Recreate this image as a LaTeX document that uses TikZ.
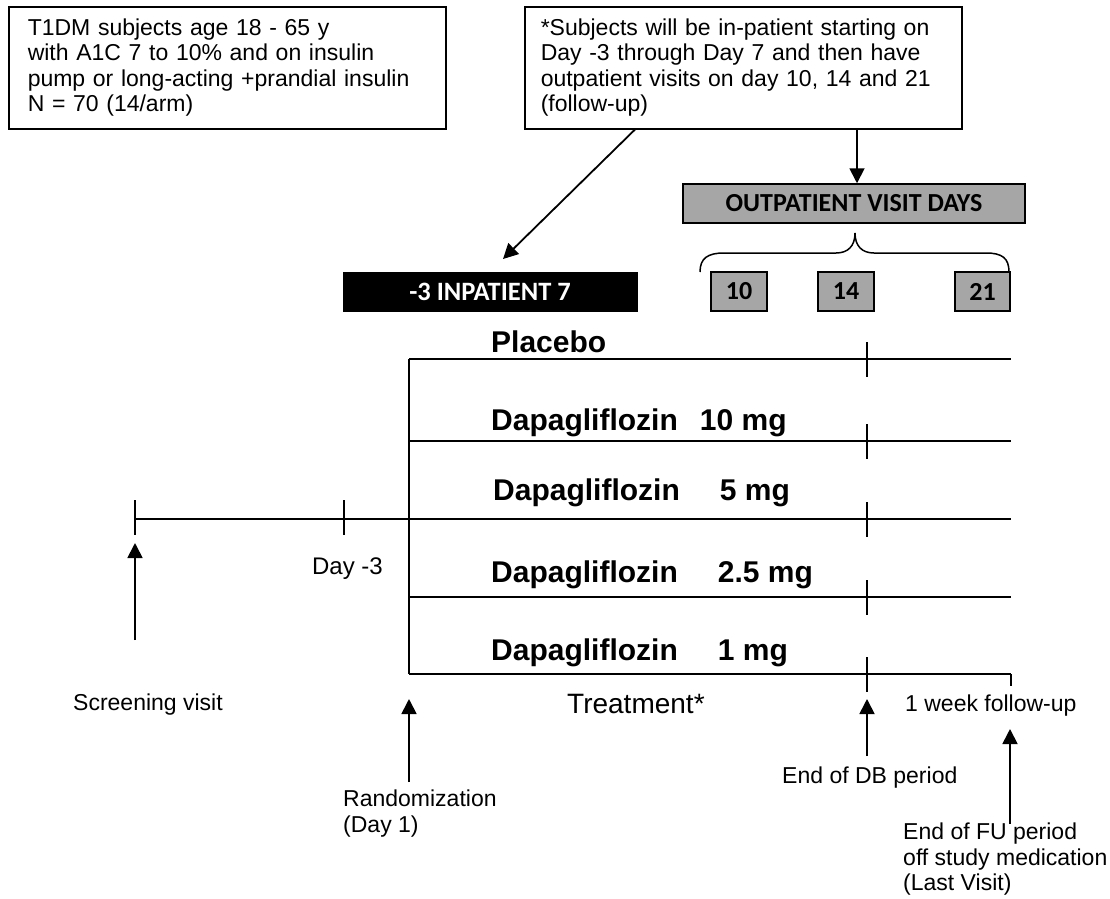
\documentclass[tikz,border=0pt]{standalone}
\usepackage{fontspec}
\setmainfont{Liberation Sans}
\newfontfamily\calib{Carlito}
\usetikzlibrary{arrows.meta}
\definecolor{boxgray}{RGB}{166,166,166}
\begin{document}
\begin{tikzpicture}[x=1pt,y=-1pt,
 ln/.style={line width=1.8pt},
 arr/.style={line width=1.8pt,-{Triangle[width=15pt,length=15pt]}},
 info/.style={draw,line width=1.5pt,minimum width=437pt,minimum height=122pt,text width=399pt,inner xsep=19pt,inner ysep=0pt,align=left,font=\fontsize{23}{25.5}\selectfont,anchor=north west},
 lbl/.style={inner sep=0pt,font=\fontsize{23}{25.5}\selectfont},
 arm/.style={inner sep=0pt,anchor=base west,font=\fontsize{30}{32}\selectfont\bfseries},
 dbox/.style={draw,line width=1.5pt,fill=boxgray,minimum width=56pt,minimum height=39pt,inner sep=0pt,font=\calib\bfseries\fontsize{26}{28}\selectfont}
]
\useasboundingbox (0,0) rectangle (1110,898);

% top info boxes
\node[info] (b1) at (8,6) {T1DM subjects age 18 - 65 y\\with A1C 7 to 10\% and on insulin\\pump or long-acting +prandial insulin\\N = 70 (14/arm)};
\node[info,inner xsep=16pt,text width=405pt] (b2) at (524,6) {*Subjects will be in-patient starting on\\Day -3 through Day 7 and then have\\outpatient visits on day 10, 14 and 21\\(follow-up)};

% inpatient and outpatient boxes
\node[draw=black,fill=black,text=white,minimum width=294pt,minimum height=39pt,inner sep=0pt,font=\calib\bfseries\fontsize{26.5}{28}\selectfont] (inp) at (490,291.5) {-3 INPATIENT 7};
\node[dbox,minimum width=342pt] (op) at (854,203.5) {OUTPATIENT VISIT DAYS};
\node[dbox] (d10) at (739,291.5) {10};
\node[dbox] (d14) at (846,291.5) {14};
\node[dbox,minimum width=55pt] (d21) at (982.5,291.5) {21};

% brace
\coordinate (brL) at (700,272);
\coordinate (brR) at (1009,272);
\coordinate (brM) at (855,233);
\draw[line width=1.5pt] (brL) .. controls (700,258) and (708,253) .. (724,253) -- (836,253) .. controls (848,253) and (855,246) .. (brM) .. controls (855,246) and (862,253) .. (874,253) -- (986,253) .. controls (1002,253) and (1009,258) .. (brR);

% arrows from box 2
\coordinate (inptip) at (503,259);
\draw[arr] ([xshift=111pt]b2.south west) -- (inptip);
\draw[arr] ([xshift=3pt]op.north |- b2.south) -- ([xshift=3pt]op.north);

% timeline and arms
\draw[ln] (409,359) -- (409,674);
\foreach \yy in {359,441,597,674} \draw[ln] (409,\yy) -- (1011,\yy);
\draw[ln] (135,519) -- (1011,519);
\foreach \yy in {359,441,519,597,674} \draw[ln] (867,{\yy-17}) -- (867,{\yy+18});
\draw[ln] (135,500) -- (135,535);
\draw[ln] (344,500) -- (344,535);
\draw[ln] (1011,674) -- (1011,686);

% arm labels
\node[arm] (pl) at (491,352) {Placebo};
\node[arm] (a10) at (491,430) {Dapagliflozin\hspace{22pt}10 mg};
\node[arm] (a5) at (493,500) {Dapagliflozin\hspace{40pt}5 mg};
\node[arm] (a25) at (491,582) {Dapagliflozin\hspace{40pt}2.5 mg};
\node[arm] (a1) at (491,660) {Dapagliflozin\hspace{40pt}1 mg};

% other labels
\node[lbl,anchor=base east,font=\fontsize{24}{26}\selectfont] (d3) at (383,574) {Day -3};
\node[lbl,anchor=base west] (scr) at (73,710) {Screening visit};
\node[lbl,anchor=north west,align=left] (rnd) at (343,790) {Randomization\\(Day 1)};
\node[lbl,anchor=base west,font=\fontsize{28}{30}\selectfont] (trt) at (567,713) {Treatment*};
\node[lbl,anchor=base west] (wk) at (905,711) {1 week follow-up};
\node[lbl,anchor=base west] (db) at (782,783) {End of DB period};
\node[lbl,anchor=north west,align=left] (fu) at (903,823) {End of FU period\\off study medication\\(Last Visit)};

% event arrows
\coordinate (scrT) at (135,543); \coordinate (scrB) at (135,640);
\coordinate (rndT) at (409,699); \coordinate (rndB) at (409,782);
\coordinate (dbT) at (867,699);  \coordinate (dbB) at (867,756);
\coordinate (fuT) at (1010,729); \coordinate (fuB) at (1010,824);
\draw[arr] (scrB) -- (scrT);
\draw[arr] (rndB) -- (rndT);
\draw[arr] (dbB) -- (dbT);
\draw[arr] (fuB) -- (fuT);
\end{tikzpicture}
\end{document}
